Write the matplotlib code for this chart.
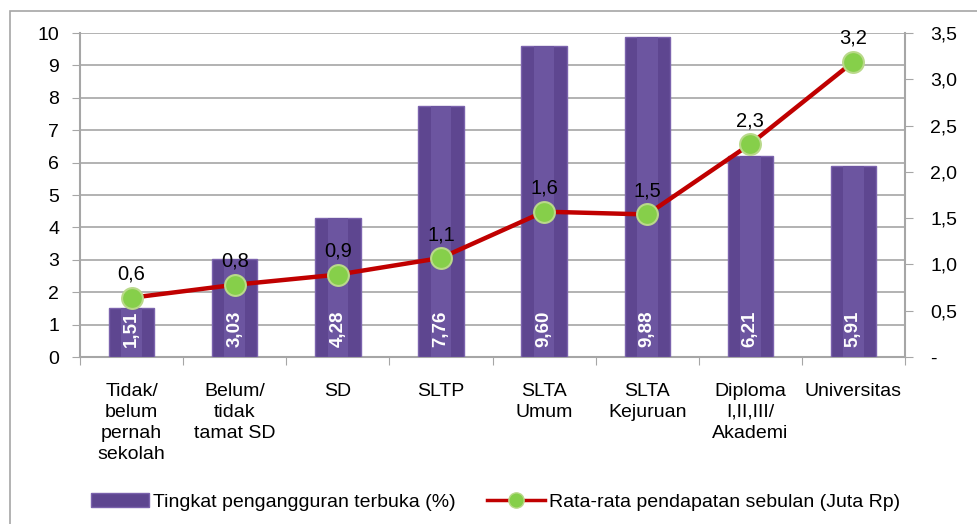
import numpy as np
import matplotlib
matplotlib.use("Agg")
import matplotlib.pyplot as plt
from matplotlib.lines import Line2D
from matplotlib.patches import Patch, Rectangle

# data
categories = ["Tidak/\nbelum\npernah\nsekolah", "Belum/\ntidak\ntamat SD", "SD", "SLTP",
              "SLTA\nUmum", "SLTA\nKejuruan", "Diploma\nI,II,III/\nAkademi", "Universitas"]
unemployment = [1.51, 3.03, 4.28, 7.76, 9.60, 9.88, 6.21, 5.91]
income = [0.64, 0.78, 0.89, 1.07, 1.57, 1.54, 2.30, 3.19]
income_labels = ["0,6", "0,8", "0,9", "1,1", "1,6", "1,5", "2,3", "3,2"]
right_ticks = [0, 0.5, 1.0, 1.5, 2.0, 2.5, 3.0, 3.5]

plt.rcParams['font.family'] = ['Liberation Sans', 'DejaVu Sans']

fig = plt.figure(figsize=(9.77, 5.24), dpi=100)
# outer frame
fig.patches.append(Rectangle((10 / 977, -0.01), 1.0, 1 - 11 / 524 + 0.01, transform=fig.transFigure,
                             fill=False, edgecolor='#a6a6a6', linewidth=1.2))

ax = fig.add_axes([80 / 977, 1 - 357 / 524, 825 / 977, 324 / 524])
x = np.arange(len(categories))

bar_color = '#5e4690'
ax.bar(x, unemployment, width=0.44, color=bar_color, edgecolor='#7b63ad', linewidth=1.0, zorder=3)
# lighter stripe in the middle of each bar, like the glossy original
ax.bar(x, unemployment, width=0.2, color='#6c55a0', linewidth=0, zorder=3)
for xi, v in zip(x, unemployment):
    ax.text(xi, 0.3, f"{v:.2f}".replace('.', ','), rotation=90, ha='center', va='bottom',
            color='white', fontsize=13.5, fontweight='bold', zorder=4)

ax.set_xlim(-0.5, len(categories) - 0.5)
ax.set_ylim(0, 10)
ax.set_yticks(range(0, 11))
ax.grid(axis='y', color='#a6a6a6', linewidth=1.2, zorder=0)
ax.set_axisbelow(True)
for s in ['top', 'right']:
    ax.spines[s].set_visible(False)
for s in ['left', 'bottom']:
    ax.spines[s].set_color('#a6a6a6')
    ax.spines[s].set_linewidth(1.5)
ax.tick_params(axis='y', labelsize=14, length=6, color='#a6a6a6', pad=9)
ax.set_xticks(np.arange(-0.5, len(categories), 1.0))
ax.set_xticklabels([])
ax.tick_params(axis='x', length=6, color='#a6a6a6')
for xi, c in zip(x, categories):
    ax.text(xi, -0.8, c, ha='center', va='top', fontsize=14, linespacing=1.3)

ax2 = ax.twinx()
ax2.set_ylim(0, 3.5)
ax2.set_yticks(right_ticks)
ax2.set_yticklabels(["-"] + [f"{t:.1f}".replace('.', ',') for t in right_ticks[1:]])
ax2.tick_params(axis='y', labelsize=14, length=6, color='#a6a6a6', pad=12)
for s in ['top', 'left', 'bottom']:
    ax2.spines[s].set_visible(False)
ax2.spines['right'].set_color('#a6a6a6')
ax2.spines['right'].set_linewidth(1.5)
ax2.plot(x, income, color='#c00000', linewidth=3.2, marker='o', markersize=15,
         markerfacecolor='#86cf4a', markeredgecolor='#b9d98a', markeredgewidth=1.5, zorder=5)
for xi, v, lab in zip(x, income, income_labels):
    ax2.text(xi, v + 0.15, lab, ha='center', va='bottom', fontsize=14.5)

handles = [Patch(facecolor=bar_color, edgecolor='#7b63ad'),
           Line2D([0], [0], color='#c00000', linewidth=2.5, marker='o', markersize=11,
                  markerfacecolor='#86cf4a', markeredgecolor='#b9d98a')]
fig.legend(handles, ["Tingkat pengangguran terbuka (%)", "Rata-rata pendapatan sebulan (Juta Rp)"],
           loc='center', bbox_to_anchor=(0.507, 1 - 502 / 524), ncol=2, frameon=False,
           fontsize=14, handlelength=3, columnspacing=1.6, handletextpad=0.2)

fig.savefig("out.png", dpi=100)
